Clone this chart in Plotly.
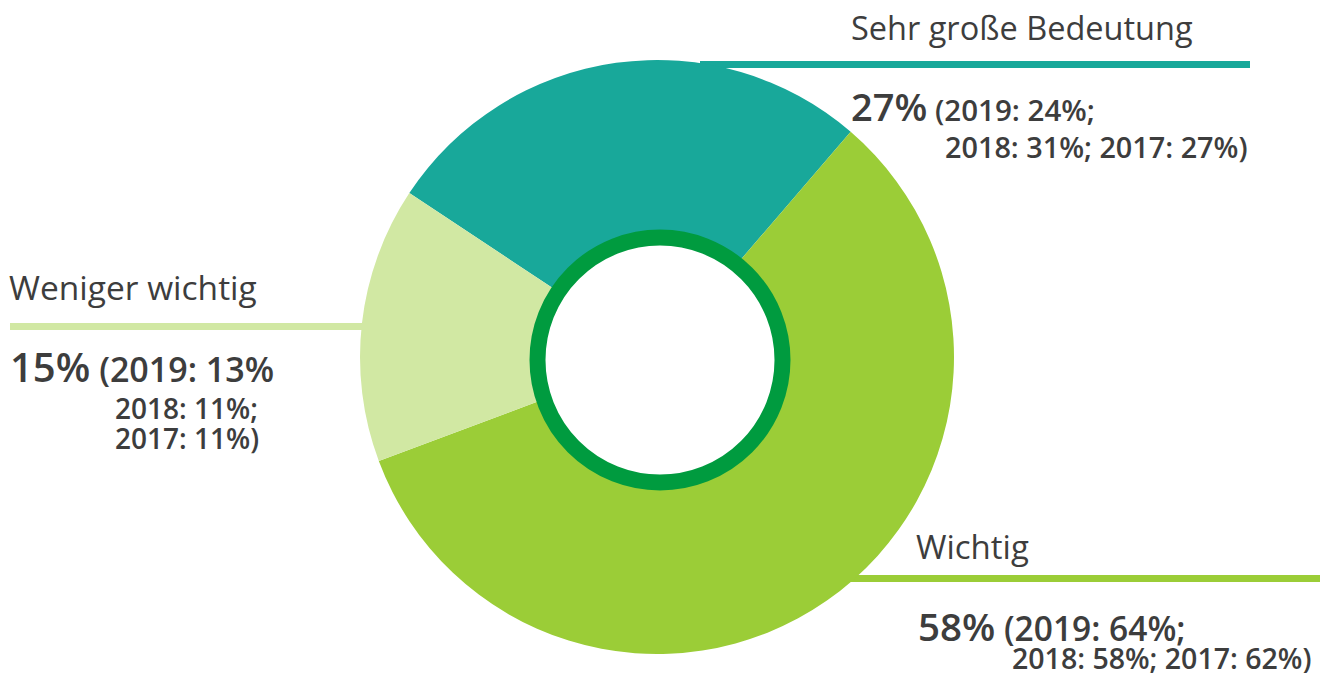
import plotly.graph_objects as go

W, H = 1324, 673

categories = ["Sehr große Bedeutung", "Wichtig", "Weniger wichtig"]
values = [27, 58, 15]
prev_2019 = [24, 64, 13]
prev_2018 = [31, 58, 11]
prev_2017 = [27, 62, 11]
colors = ["#18A89A", "#9BCD37", "#D1E8A3"]
ring_color = "#009B3F"
text_color = "#3D3D3D"
FONT = "Open Sans"


def px(x):
    return x / W


def py(y):
    return 1 - y / H


# pie geometry in pixels
cx, cy, r = 657, 357, 297

fig = go.Figure()

fig.add_trace(go.Pie(
    labels=categories,
    values=values,
    marker=dict(colors=colors, line=dict(width=0)),
    sort=False,
    direction="clockwise",
    rotation=-56.5,
    hole=0.40,
    textinfo="none",
    hoverinfo="label+percent",
    showlegend=False,
    domain=dict(x=[px(cx - r), px(cx + r)], y=[py(cy + r), py(cy - r)]),
))

shapes = []
# leader lines
shapes.append(dict(type="line", xref="paper", yref="paper", layer="below",
                   x0=px(700), x1=px(1250), y0=py(64.5), y1=py(64.5),
                   line=dict(color=colors[0], width=7)))
shapes.append(dict(type="line", xref="paper", yref="paper", layer="below",
                   x0=px(10), x1=px(380), y0=py(326.5), y1=py(326.5),
                   line=dict(color=colors[2], width=7)))
shapes.append(dict(type="line", xref="paper", yref="paper", layer="below",
                   x0=px(840), x1=px(1320), y0=py(578.5), y1=py(578.5),
                   line=dict(color=colors[1], width=7)))
# inner ring
rc_x, rc_y, rr = 660, 360, 122.5
shapes.append(dict(type="circle", xref="paper", yref="paper", layer="above",
                   x0=px(rc_x - rr), x1=px(rc_x + rr), y0=py(rc_y + rr), y1=py(rc_y - rr),
                   fillcolor="white", line=dict(color=ring_color, width=16)))

annotations = []


def ann(text, x, y, size, xanchor="left", bold=False):
    annotations.append(dict(
        text=text, x=px(x), y=py(y), xref="paper", yref="paper",
        xanchor=xanchor, yanchor="middle", showarrow=False,
        font=dict(family=FONT, size=size, color=text_color,
                  weight=600 if bold else "normal"),
    ))


def main_line(i, big, small, tail=""):
    return (f"<span style='font-size:{big}px'>{values[i]}%</span> "
            f"<span style='font-size:{small}px'>(2019: {prev_2019[i]}%{tail}</span>")


# Sehr große Bedeutung
ann(categories[0], 849, 28, 32.5)
ann(main_line(0, 38, 29.5, ";"), 849, 106, 29.5, bold=True)
ann(f"2018: {prev_2018[0]}%; 2017: {prev_2017[0]}%)", 1250, 146, 28.8,
    xanchor="right", bold=True)

# Weniger wichtig
ann(categories[2], 7, 287, 33.5)
ann(main_line(2, 40, 34), 8, 367, 34, bold=True)
ann(f"2018: {prev_2018[2]}%;", 113, 408, 28, bold=True)
ann(f"2017: {prev_2017[2]}%)", 113, 438, 28, bold=True)

# Wichtig
ann(categories[1], 914, 546, 33)
ann(main_line(1, 38.5, 33.5, ";"), 916, 626, 33.5, bold=True)
ann(f"2018: {prev_2018[1]}%; 2017: {prev_2017[1]}%)", 1313, 658, 28.5,
    xanchor="right", bold=True)

fig.update_layout(
    width=W, height=H,
    margin=dict(l=0, r=0, t=0, b=0),
    paper_bgcolor="white",
    plot_bgcolor="white",
    shapes=shapes,
    annotations=annotations,
    font=dict(family=FONT, color=text_color),
)

fig.write_html(
    "out.html",
    config={"displayModeBar": False},
    post_script="document.body.style.margin='0';document.body.style.overflow='hidden';",
)
